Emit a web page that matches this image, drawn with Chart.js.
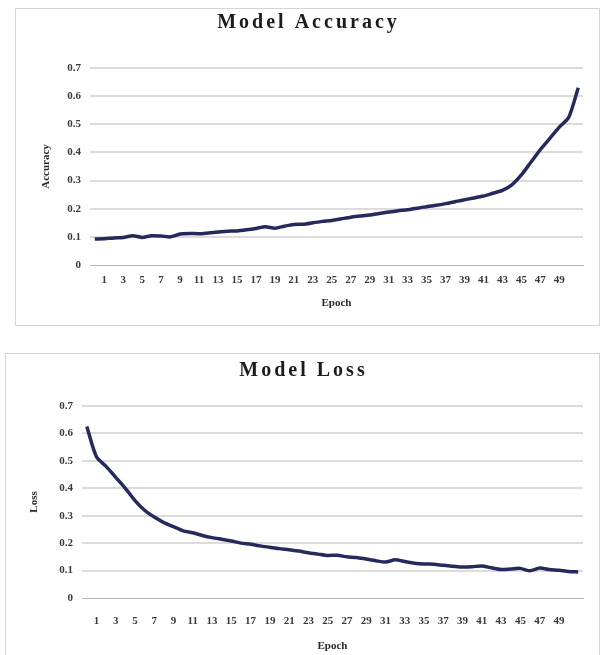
<!DOCTYPE html>
<html>
<head>
<meta charset="utf-8">
<script src="https://cdn.jsdelivr.net/npm/chart.js@4.4.0/dist/chart.umd.min.js"></script>
<style>
  body { margin: 0; background: #fff; width: 609px; height: 655px; overflow: hidden; position: relative; }
  .box { position: absolute; border: 1px solid #d4d4d4; }
  #accBox { left: 15px; top: 8px; width: 583px; height: 316px; }
  #lossBox { left: 5px; top: 353px; width: 593px; height: 308px; }
  canvas { display: block; }
</style>
</head>
<body>
<div class="box" id="accBox"><canvas id="accChart" width="583" height="316"></canvas></div>
<div class="box" id="lossBox"><canvas id="lossChart" width="593" height="308"></canvas></div>

<script>
"use strict";

// epochs on the category axis (only the odd ones up to 49 get a label)
let epochs = [0, 1, 2, 3, 4, 5, 6, 7, 8, 9, 10, 11, 12, 13, 14, 15, 16, 17, 18, 19,
              20, 21, 22, 23, 24, 25, 26, 27, 28, 29, 30, 31, 32, 33, 34, 35, 36, 37, 38, 39,
              40, 41, 42, 43, 44, 45, 46, 47, 48, 49, 50, 51];
let epochLabels = [1, 3, 5, 7, 9, 11, 13, 15, 17, 19, 21, 23, 25, 27, 29, 31, 33, 35, 37, 39, 41, 43, 45, 47, 49];
let yTicks = [0, 0.1, 0.2, 0.3, 0.4, 0.5, 0.6, 0.7];

let accuracy = [0.092, 0.093, 0.096, 0.098, 0.104, 0.098, 0.104, 0.103, 0.100, 0.110,
                0.112, 0.111, 0.114, 0.117, 0.120, 0.121, 0.125, 0.130, 0.136, 0.131,
                0.138, 0.144, 0.145, 0.150, 0.155, 0.158, 0.164, 0.170, 0.174, 0.178,
                0.183, 0.188, 0.193, 0.196, 0.202, 0.207, 0.212, 0.218, 0.225, 0.232,
                0.238, 0.245, 0.255, 0.265, 0.285, 0.320, 0.365, 0.410, 0.450, 0.490,
                0.525, 0.630];

let loss = [0.625, 0.515, 0.480, 0.440, 0.400, 0.355, 0.320, 0.295, 0.275, 0.260,
            0.245, 0.238, 0.228, 0.220, 0.214, 0.208, 0.200, 0.196, 0.190, 0.185,
            0.180, 0.176, 0.171, 0.165, 0.160, 0.155, 0.156, 0.150, 0.148, 0.142,
            0.136, 0.131, 0.139, 0.133, 0.127, 0.124, 0.123, 0.119, 0.116, 0.113,
            0.114, 0.117, 0.110, 0.104, 0.106, 0.108, 0.099, 0.109, 0.104, 0.101,
            0.097, 0.095];

let serif = "'Liberation Serif', 'Times New Roman', serif";
let lineColor = "#252a5c";

// chart title drawn by hand so it can get the wide letter spacing of the original
let spacedTitle = {
    id: "spacedTitle",
    afterDraw: function (chart, args, opts) {
        let ctx = chart.ctx;
        ctx.save();
        ctx.font = "bold 20px " + serif;
        ctx.fillStyle = "#1c1c1c";
        ctx.textAlign = "center";
        ctx.textBaseline = "middle";
        ctx.letterSpacing = "3px";
        ctx.fillText(opts.text, chart.width / 2 + 1, opts.y);
        ctx.restore();
    }
};

function makeChart(id, titleText, titleY, yTitle, values, pad, yWidth, xHeight, xPad) {
    let ctx = document.getElementById(id);
    return new Chart(ctx, {
        type: "line",
        data: {
            labels: epochs,
            datasets: [{
                data: values,
                borderColor: lineColor,
                borderWidth: 3.5,
                pointRadius: 0,
                tension: 0.25,
                fill: false
            }]
        },
        plugins: [spacedTitle],
        options: {
            responsive: false,
            animation: false,
            layout: { padding: pad },
            plugins: {
                legend: { display: false },
                tooltip: { enabled: false },
                spacedTitle: { text: titleText, y: titleY }
            },
            scales: {
                x: {
                    offset: true,
                    afterFit: function (scale) { scale.height = xHeight; },
                    grid: { display: false, drawTicks: false },
                    border: { display: true, color: "#b5b5b5", dash: [2, 2], width: 1 },
                    ticks: {
                        autoSkip: false,
                        maxRotation: 0,
                        padding: xPad,
                        color: "#3a3a3a",
                        font: { family: serif, size: 11, weight: "bold" },
                        callback: function (v, i) {
                            return epochLabels.indexOf(epochs[i]) >= 0 ? String(epochs[i]) : "";
                        }
                    },
                    title: {
                        display: true, text: "Epoch", color: "#2a2a2a",
                        padding: { top: 2, bottom: 0 },
                        font: { family: serif, size: 11, weight: "bold" }
                    }
                },
                y: {
                    min: 0,
                    max: 0.7,
                    afterBuildTicks: function (scale) {
                        scale.ticks = yTicks.map(function (t) { return { value: t }; });
                    },
                    afterFit: function (scale) { scale.width = yWidth; },
                    grid: {
                        drawTicks: false,
                        lineWidth: 2,
                        color: function (c) { return c.tick && c.tick.value === 0 ? "rgba(0,0,0,0)" : "#dcdcdc"; }
                    },
                    border: { display: false },
                    ticks: {
                        padding: 9,
                        color: "#3a3a3a",
                        font: { family: serif, size: 11, weight: "bold" },
                        callback: function (v) { return String(v); }
                    },
                    title: {
                        display: true, text: yTitle, color: "#2a2a2a",
                        padding: 0,
                        font: { family: serif, size: 11, weight: "bold" }
                    }
                }
            }
        }
    });
}

makeChart("accChart", "Model Accuracy", 14, "Accuracy", accuracy,
          { left: 24, right: 16, top: 59, bottom: 15 }, 50, 45, 9);
makeChart("lossChart", "Model Loss", 17, "Loss", loss,
          { left: 22, right: 16, top: 52, bottom: 9 }, 54, 55, 17);
</script>
</body>
</html>
